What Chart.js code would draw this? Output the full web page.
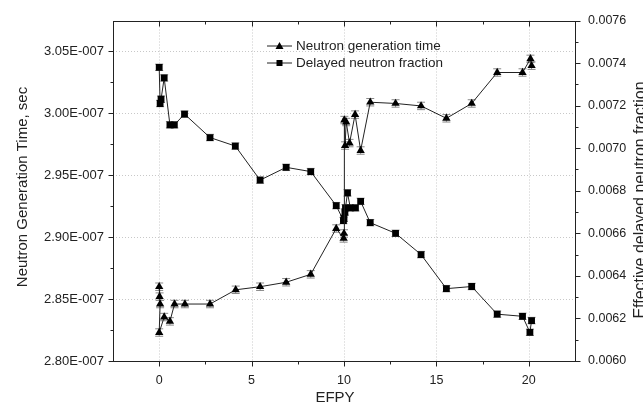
<!doctype html>
<html lang="en">
<head>
<meta charset="utf-8">
<title>Neutron generation time / delayed neutron fraction vs EFPY</title>
<script src="https://cdn.jsdelivr.net/npm/chart.js"></script>
<style>
  html, body { margin: 0; padding: 0; background: #fff; }
  #wrap { width: 643px; height: 411px; }
</style>
</head>
<body>
<div id="wrap"><canvas id="chart" width="643" height="411"></canvas></div>
<script>
// neutron generation time (left axis, sec)
const genEfpy = [0.0, 0.02, 0.05, 0.0, 0.27, 0.58, 0.83, 1.39, 2.75, 4.14, 5.46, 6.87, 8.2, 9.58, 9.98, 10.0,
  10.02, 10.06, 10.12, 10.3, 10.6, 10.9, 11.42, 12.79, 14.17, 15.54, 16.91, 18.29, 19.66, 20.09, 20.15];
const genTime = [2.860e-7, 2.852e-7, 2.846e-7, 2.823e-7, 2.8355e-7, 2.832e-7, 2.846e-7, 2.846e-7, 2.846e-7,
  2.8575e-7, 2.860e-7, 2.8636e-7, 2.870e-7, 2.907e-7, 2.899e-7, 2.903e-7, 2.9946e-7, 2.974e-7, 2.993e-7,
  2.976e-7, 2.999e-7, 2.970e-7, 3.009e-7, 3.008e-7, 3.006e-7, 2.996e-7, 3.008e-7, 3.033e-7, 3.033e-7,
  3.044e-7, 3.0385e-7];
const genErr = 0.003e-7;

// effective delayed neutron fraction (right axis)
const delEfpy = [0.0, 0.05, 0.1, 0.27, 0.58, 0.82, 1.37, 2.75, 4.12, 5.46, 6.87, 8.2, 9.58, 9.97, 10.0, 10.05,
  10.08, 10.19, 10.34, 10.62, 10.9, 11.42, 12.79, 14.17, 15.54, 16.91, 18.29, 19.66, 20.06, 20.15];
const delFrac = [0.00738, 0.00721, 0.00723, 0.00733, 0.00711, 0.00711, 0.00716, 0.00705, 0.00701, 0.00685,
  0.00691, 0.00689, 0.00673, 0.00666, 0.00667, 0.00670, 0.00672, 0.00679, 0.00672, 0.00672, 0.00675,
  0.00665, 0.00660, 0.00650, 0.00634, 0.00635, 0.00622, 0.00621, 0.006135, 0.00619];
const delErr = 0.000015;

const xTicks = [0, 5, 10, 15, 20];
const xMinor = [2.5, 7.5, 12.5, 17.5];
const genTicks = [2.80e-7, 2.85e-7, 2.90e-7, 2.95e-7, 3.00e-7, 3.05e-7];
const genMinor = [2.825e-7, 2.875e-7, 2.925e-7, 2.975e-7, 3.025e-7];
const delTicks = [0.0060, 0.0062, 0.0064, 0.0066, 0.0068, 0.0070, 0.0072, 0.0074, 0.0076];
const delMinor = [0.0061, 0.0063, 0.0065, 0.0067, 0.0069, 0.0071, 0.0073, 0.0075];

const ink = '#222';
const fontFam = '"Liberation Sans", Arial, sans-serif';

function seg(ctx, x1, y1, x2, y2) {
    ctx.beginPath();
    ctx.moveTo(x1, y1);
    ctx.lineTo(x2, y2);
    ctx.stroke();
}

const decor = {
    id: 'decor',
    beforeDatasetsDraw(chart) {
        const { ctx, chartArea: a, scales } = chart;
        const { x, y, y1 } = scales;
        ctx.save();
        // dotted grid
        ctx.strokeStyle = '#c8c8c8';
        ctx.lineWidth = 1;
        ctx.setLineDash([1, 2]);
        xTicks.forEach(v => {
            const px = Math.round(x.getPixelForValue(v)) + 0.5;
            seg(ctx, px, a.top, px, a.bottom);
        });
        genTicks.slice(1).forEach(v => {
            const py = Math.round(y.getPixelForValue(v)) + 0.5;
            seg(ctx, a.left, py, a.right, py);
        });
        ctx.setLineDash([]);
        // error bars
        ctx.strokeStyle = '#888';
        const bar = (px, lo, hi) => {
            seg(ctx, px, lo, px, hi);
            seg(ctx, px - 4, lo, px + 4, lo);
            seg(ctx, px - 4, hi, px + 4, hi);
        };
        genEfpy.forEach((e, i) => {
            bar(x.getPixelForValue(e), y.getPixelForValue(genTime[i] - genErr), y.getPixelForValue(genTime[i] + genErr));
        });
        delEfpy.forEach((e, i) => {
            bar(x.getPixelForValue(e), y1.getPixelForValue(delFrac[i] - delErr), y1.getPixelForValue(delFrac[i] + delErr));
        });
        ctx.restore();
    },
    afterDraw(chart) {
        const { ctx, chartArea: a, scales } = chart;
        const { x, y, y1 } = scales;
        ctx.save();
        ctx.strokeStyle = ink;
        ctx.lineWidth = 1;
        const L = Math.round(a.left) + 0.5, R = Math.round(a.right) + 0.5;
        const T = Math.round(a.top) + 0.5, B = Math.round(a.bottom) + 0.5;
        ctx.strokeRect(L, T, R - L, B - T);
        // tick marks
        xTicks.forEach(v => {
            const px = Math.round(x.getPixelForValue(v)) + 0.5;
            seg(ctx, px, B, px, B + 5);
            seg(ctx, px, T, px, T + 5);
        });
        xMinor.forEach(v => {
            const px = Math.round(x.getPixelForValue(v)) + 0.5;
            seg(ctx, px, B, px, B + 3);
            seg(ctx, px, T, px, T + 3);
        });
        genTicks.forEach(v => {
            const py = Math.round(y.getPixelForValue(v)) + 0.5;
            seg(ctx, L - 5, py, L, py);
        });
        genMinor.forEach(v => {
            const py = Math.round(y.getPixelForValue(v)) + 0.5;
            seg(ctx, L - 3, py, L, py);
        });
        delTicks.forEach(v => {
            const py = Math.round(y1.getPixelForValue(v)) + 0.5;
            seg(ctx, R, py, R + 5, py);
        });
        delMinor.forEach(v => {
            const py = Math.round(y1.getPixelForValue(v)) + 0.5;
            seg(ctx, R, py, R + 3, py);
        });

        // axis titles
        ctx.fillStyle = ink;
        ctx.textAlign = 'center';
        ctx.textBaseline = 'middle';
        ctx.font = '15px ' + fontFam;
        ctx.fillText('EFPY', (a.left + a.right) / 2 - 9, 398);
        ctx.save();
        ctx.translate(23, 187);
        ctx.rotate(-Math.PI / 2);
        ctx.fillText('Neutron Generation Time, sec', 0, 0);
        ctx.restore();
        ctx.save();
        ctx.font = '16px ' + fontFam;
        ctx.translate(641, 200);
        ctx.rotate(-Math.PI / 2);
        ctx.fillText('Effective delayed neutron fraction', 0, 0);
        ctx.restore();

        // legend
        const items = [
            { label: 'Neutron generation time', shape: 'tri', yy: 46 },
            { label: 'Delayed neutron fraction', shape: 'sq', yy: 63 }
        ];
        ctx.font = '13.5px ' + fontFam;
        ctx.textAlign = 'left';
        items.forEach(it => {
            ctx.strokeStyle = ink;
            seg(ctx, 267, it.yy, 292, it.yy);
            ctx.fillStyle = '#000';
            ctx.beginPath();
            if (it.shape === 'tri') {
                ctx.moveTo(279.5, it.yy - 4);
                ctx.lineTo(283.5, it.yy + 3);
                ctx.lineTo(275.5, it.yy + 3);
                ctx.closePath();
            } else {
                ctx.rect(276.5, it.yy - 3, 6, 6);
            }
            ctx.fill();
            ctx.fillStyle = ink;
            ctx.fillText(it.label, 296, it.yy + 0.5);
        });
        ctx.restore();
    }
};

const ctx = document.getElementById('chart').getContext('2d');
new Chart(ctx, {
    type: 'line',
    data: {
        datasets: [{
            label: 'Neutron generation time',
            data: genEfpy.map((e, i) => ({ x: e, y: genTime[i] })),
            yAxisID: 'y',
            borderColor: '#222',
            borderWidth: 1,
            backgroundColor: '#000',
            pointStyle: 'triangle',
            pointRadius: 4.8,
            pointBorderWidth: 0,
            tension: 0
        }, {
            label: 'Delayed neutron fraction',
            data: delEfpy.map((e, i) => ({ x: e, y: delFrac[i] })),
            yAxisID: 'y1',
            borderColor: '#222',
            borderWidth: 1,
            backgroundColor: '#000',
            pointStyle: 'rect',
            pointRadius: 4.8,
            pointBorderWidth: 0,
            tension: 0
        }]
    },
    options: {
        responsive: false,
        animation: false,
        layout: { padding: { top: 18, left: 0, right: 0, bottom: 0 } },
        plugins: { legend: { display: false }, tooltip: { enabled: false } },
        scales: {
            x: {
                type: 'linear',
                min: -2.5,
                max: 22.5,
                afterBuildTicks: s => { s.ticks = xTicks.map(v => ({ value: v })); },
                afterFit: s => { s.height = 50; },
                grid: { display: false, drawTicks: false },
                border: { display: false },
                ticks: { padding: 12, color: ink, font: { size: 12.5, family: fontFam }, maxRotation: 0 }
            },
            y: {
                position: 'left',
                min: 2.80e-7,
                max: 3.075e-7,
                afterBuildTicks: s => { s.ticks = genTicks.map(v => ({ value: v })); },
                afterFit: s => { s.width = 113; },
                grid: { display: false, drawTicks: false },
                border: { display: false },
                ticks: {
                    padding: 9,
                    color: ink,
                    font: { size: 13, family: fontFam },
                    callback: v => (v * 1e7).toFixed(2) + 'E-007'
                }
            },
            y1: {
                position: 'right',
                min: 0.0060,
                max: 0.0076,
                afterBuildTicks: s => { s.ticks = delTicks.map(v => ({ value: v })); },
                afterFit: s => { s.width = 68; },
                grid: { display: false, drawTicks: false },
                border: { display: false },
                ticks: {
                    padding: 13,
                    color: ink,
                    font: { size: 12.5, family: fontFam },
                    callback: v => v.toFixed(4)
                }
            }
        }
    },
    plugins: [decor]
});
</script>
</body>
</html>
